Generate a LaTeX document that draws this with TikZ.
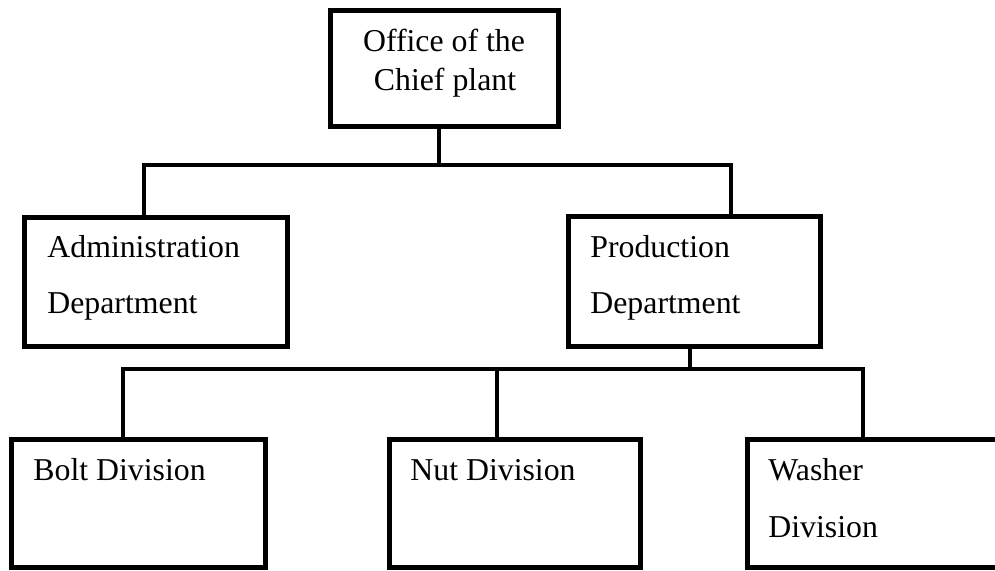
\documentclass[tikz,border=0pt]{standalone}
\usepackage{fontspec}
\setmainfont{Liberation Serif}
\begin{document}
\begin{tikzpicture}[x=0.5pt, y=-0.5pt,
  box/.style={draw=black, line width=2.6pt, rectangle, inner sep=0pt, fill=white},
  conn/.style={draw=black, line width=1.8pt},
  txt/.style={inner sep=0pt, anchor=base west, font=\fontsize{15.9pt}{19pt}\selectfont},
  ctxt/.style={inner sep=0pt, anchor=base, font=\fontsize{15.9pt}{19pt}\selectfont}]
\useasboundingbox (0,0) rectangle (995,571);

% boxes (centre, width, height in px-units)
\node[box, minimum width=114pt, minimum height=58pt] (chief) at (444.5,68.5) {};
\node[box, minimum width=131.5pt, minimum height=64.5pt] (admin) at (156,282) {};
\node[box, minimum width=126pt, minimum height=65pt] (prod) at (694.5,281.5) {};
\node[box, minimum width=127pt, minimum height=64pt] (bolt) at (138.5,503.5) {};
\node[box, minimum width=125.5pt, minimum height=64pt] (nut) at (515,503.5) {};
% this box runs past the right edge of the page
\node[box, minimum width=160pt, minimum height=64pt] (washer) at (907.5,503.5) {};

% labels
\node[ctxt] (chief1) at (444,52) {Office of the};
\node[ctxt] (chief2) at (445,91) {Chief plant};
\node[txt] (admin1) at (47,258) {Administration};
\node[txt] (admin2) at (47,314) {Department};
\node[txt] (prod1) at (590,258) {Production};
\node[txt] (prod2) at (590,314) {Department};
\node[txt] (bolt1) at (33,480) {Bolt Division};
\node[txt] (nut1) at (410,480) {Nut Division};
\node[txt] (washer1) at (768,480) {Washer};
\node[txt] (washer2) at (768,537) {Division};

% junction points of the connector buses
\coordinate (busA) at (439,165);
\coordinate (busB) at (690,369);

% chief -> departments
\draw[conn] (chief.south -| busA) -- (busA);
\draw[conn] (admin.north -| 144,0) -- (144,165) -- (731,165) -- (prod.north -| 731,0);

% production -> divisions
\draw[conn] (prod.south -| busB) -- (busB);
\draw[conn] (bolt.north -| 123,0) -- (123,369) -- (863,369) -- (washer.north -| 863,0);
\draw[conn] (nut.north -| 497,0) -- (497,369);
\end{tikzpicture}
\end{document}
